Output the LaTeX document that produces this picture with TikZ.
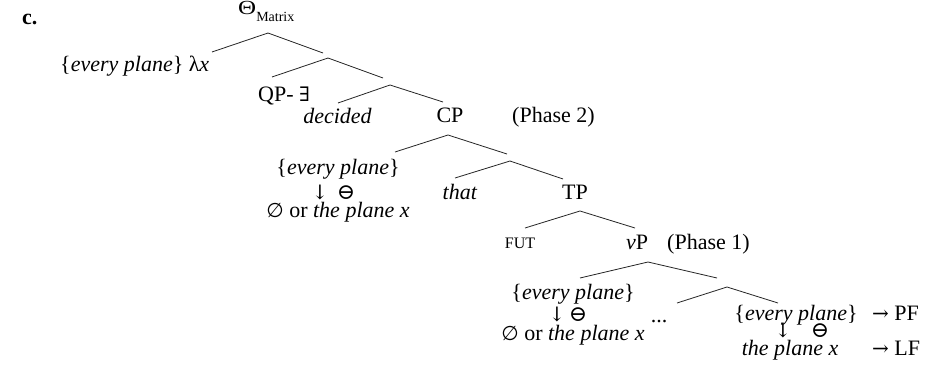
\documentclass[tikz,border=0pt]{standalone}
\usepackage{fontspec}
\setmainfont{Liberation Serif}
\newfontfamily\symf{DejaVu Serif}
\newfontfamily\symsf{DejaVu Sans}
\begin{document}
\begin{tikzpicture}[x=1pt,y=-1pt,
  tx/.style={inner sep=0pt, anchor=base, font=\fontsize{22}{24}\selectfont},
  sy/.style={inner sep=0pt, anchor=base, font=\fontsize{20}{22}\selectfont\symf},
  br/.style={draw=black!85, line width=0.8pt}]
\useasboundingbox[fill=white] (0,0) rectangle (936,382);
% labels
\node[tx,anchor=base west] (lbl) at (22,25) {\textbf{c.}};
\node[tx,anchor=base west,font=\fontsize{20}{22}\selectfont] (theta) at (238,15) {\scalebox{1.25}[1]{Θ}\raisebox{-7pt}{\fontsize{14}{14}\selectfont Matrix}};
\node[tx,anchor=base west] (ep0) at (60,72) {\{\textit{every plane}\} λ\textit{x}};
\node[tx,anchor=base west] (qp) at (258,102) {QP- {\symf\fontsize{20}{22}\selectfont ∃}};
\node[tx] (decided) at (337.5,124) {\textit{decided}};
\node[tx] (cp) at (450,123) {CP};
\node[tx,anchor=base west] (ph2) at (512,123) {(Phase 2)};
\node[tx] (ep1) at (338,175) {\{\textit{every plane}\}};
\node[sy] (da1) at (320,199) {↓};
\node[sy,font=\fontsize{22}{22}\selectfont\symf] (om1) at (346,199) {⊖};
\node[tx] (or1) at (338,217) {{\symsf\fontsize{20}{22}\selectfont ∅} or \textit{the plane x}};
\node[tx] (that) at (460,200) {\textit{that}};
\node[tx] (tp) at (575,200) {TP};
\node[tx,font=\fontsize{16}{16}\selectfont] (fut) at (520,248) {FUT};
\node[tx] (vp) at (637,249) {\textit{v}P};
\node[tx,anchor=base west] (ph1) at (667,249) {(Phase 1)};
\node[tx] (ep2) at (573,299) {\{\textit{every plane}\}};
\node[sy] (da2) at (557,321) {↓};
\node[sy,font=\fontsize{22}{22}\selectfont\symf] (om2) at (578,321) {⊖};
\node[tx] (or2) at (573,340) {{\symsf\fontsize{20}{22}\selectfont ∅} or \textit{the plane x}};
\node[tx] (dots) at (659,322) {...};
\node[tx] (ep3) at (796,320) {\{\textit{every plane}\}};
\node[tx,anchor=base west] (pf) at (872,320) {{\symf\fontsize{20}{22}\selectfont →} PF};
\node[sy] (da3) at (783,337) {↓};
\node[sy,font=\fontsize{22}{22}\selectfont\symf] (om3) at (820,337) {⊖};
\node[tx] (tpx) at (790,355) {\textit{the plane x}};
\node[tx,anchor=base west] (lf) at (872,355) {{\symf\fontsize{20}{22}\selectfont →} LF};
% branch points
\coordinate (a1) at (268,33); \coordinate (a1l) at (212,52); \coordinate (a1r) at (323,53);
\coordinate (a2) at (328,58); \coordinate (a2l) at (272,77); \coordinate (a2r) at (383,78);
\coordinate (a3) at (390,85); \coordinate (a3l) at (338,103); \coordinate (a3r) at (443,102);
\coordinate (a4) at (448,135); \coordinate (a4l) at (395,152); \coordinate (a4r) at (507,154);
\coordinate (a5) at (510,161); \coordinate (a5l) at (455,178); \coordinate (a5r) at (563,179);
\coordinate (a6) at (580,211); \coordinate (a6l) at (525,228); \coordinate (a6r) at (635,228);
\coordinate (a7) at (648,262); \coordinate (a7l) at (580,278); \coordinate (a7r) at (717,278);
\coordinate (a8) at (727,287); \coordinate (a8l) at (677,303); \coordinate (a8r) at (778,303);
\foreach \n in {a1,a2,a3,a4,a5,a6,a7,a8}{
  \draw[br] (\n l) -- (\n) -- (\n r);
}
\end{tikzpicture}
\end{document}
